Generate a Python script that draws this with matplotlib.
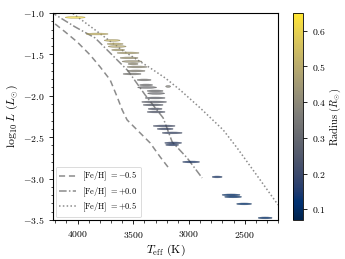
import numpy as np
import matplotlib
matplotlib.use("Agg")
import matplotlib.pyplot as plt
from matplotlib.patches import Ellipse
from matplotlib.colors import Normalize
from matplotlib.ticker import MultipleLocator

plt.rcParams['font.family'] = 'serif'
plt.rcParams['font.serif'] = ['cmr10', 'DejaVu Serif']
plt.rcParams['mathtext.fontset'] = 'cm'
plt.rcParams['axes.formatter.use_mathtext'] = True
plt.rcParams['axes.unicode_minus'] = True

# Stars: Teff (K), log L, Teff extent (K), radius (Rsun)
teff = [4022, 3825, 3690, 3663, 3645, 3636, 3547, 3538, 3511, 3502, 3466, 3475,
        3511, 3403, 3385, 3376, 3304, 3295, 3304, 3313, 3322, 3304, 3295, 3187,
        3223, 3214, 3151, 3142, 3151, 2981, 2747, 2622, 2604, 2505, 2316]
logl = [-1.054, -1.254, -1.332, -1.374, -1.405, -1.447, -1.483, -1.543, -1.586,
        -1.616, -1.652, -1.700, -1.737, -1.809, -1.870, -1.900, -1.942, -1.972,
        -2.027, -2.075, -2.111, -2.159, -2.196, -1.888, -2.365, -2.401, -2.449,
        -2.570, -2.594, -2.800, -2.981, -3.198, -3.222, -3.307, -3.476]
teff_width = [180, 198, 144, 144, 162, 117, 198, 162, 180, 90, 180, 162,
              162, 126, 117, 171, 144, 153, 180, 225, 180, 126, 162, 45,
              198, 144, 180, 153, 117, 153, 90, 162, 153, 135, 126]
radius = [0.612, 0.537, 0.528, 0.511, 0.497, 0.476, 0.480, 0.450, 0.435, 0.423,
          0.414, 0.389, 0.365, 0.358, 0.338, 0.328, 0.326, 0.317, 0.296, 0.278,
          0.266, 0.254, 0.245, 0.373, 0.211, 0.203, 0.200, 0.175, 0.169, 0.149,
          0.143, 0.122, 0.120, 0.118, 0.113]

# Model tracks
t_m05 = [4202, 4112, 4004, 3888, 3798, 3708, 3645, 3600, 3556, 3466, 3349, 3259, 3169]
l_m05 = [-1.133, -1.229, -1.350, -1.507, -1.652, -1.809, -2.014, -2.171, -2.292,
         -2.413, -2.570, -2.739, -2.896]
t_p00 = [4250, 4022, 3843, 3690, 3547, 3394, 3232, 3151, 3017, 2882]
l_p00 = [-0.98, -1.169, -1.302, -1.507, -1.700, -1.990, -2.268, -2.558, -2.751, -2.993]
t_p05 = [4070, 3843, 3600, 3349, 3214, 3080, 2900, 2693, 2568, 2361, 2200]
l_p05 = [-0.98, -1.205, -1.450, -1.664, -1.785, -1.930, -2.147, -2.413, -2.630, -3.017, -3.319]

fig = plt.figure(figsize=(3.45, 2.59), dpi=100)
ax = fig.add_axes([0.154, 0.151, 0.652, 0.799])
cax = fig.add_axes([0.848, 0.151, 0.031, 0.799])

cmap = plt.get_cmap('cividis')
norm = Normalize(vmin=0.07, vmax=0.65)

ax.plot(t_m05, l_m05, ls=(0, (4, 2.5)), color='0.55', lw=1.1, label=r'[Fe/H] $= -0.5$')
ax.plot(t_p00, l_p00, ls=(0, (5, 1.5, 1, 1.5)), color='0.55', lw=1.1, label=r'[Fe/H] $= +0.0$')
ax.plot(t_p05, l_p05, ls=(0, (1, 1.5)), color='0.55', lw=1.1, label=r'[Fe/H] $= +0.5$')

for t, l, w, r in zip(teff, logl, teff_width, radius):
    c = cmap(norm(r))
    e = Ellipse((t, l), width=w, height=0.022, facecolor=c[:3] + (0.75,),
                edgecolor=tuple(0.55 * np.array(c[:3])) + (0.6,), lw=0.35, zorder=3)
    ax.add_patch(e)

ax.set_xlim(4220, 2200)
ax.set_ylim(-3.5, -1.0)
ax.xaxis.set_major_locator(MultipleLocator(500))
ax.xaxis.set_minor_locator(MultipleLocator(100))
ax.yaxis.set_major_locator(MultipleLocator(0.5))
ax.yaxis.set_minor_locator(MultipleLocator(0.1))
ax.tick_params(labelsize=7, length=3, width=0.6)
ax.tick_params(which='minor', length=1.8, width=0.5)
for s in ax.spines.values():
    s.set_linewidth(0.8)
ax.set_xlabel(r'$T_{\rm eff}$ (K)', fontsize=8.5, labelpad=2)
ax.set_ylabel(r'$\log_{10} L$ ($L_{\odot}$)', fontsize=8.5, labelpad=2)

leg = ax.legend(loc='lower left', fontsize=6, frameon=True, handlelength=2.0,
                borderpad=0.4, labelspacing=0.25, handletextpad=0.8,
                borderaxespad=0.3, fancybox=True)
leg.get_frame().set_linewidth(0.6)

sm = plt.cm.ScalarMappable(norm=norm, cmap=cmap)
cb = fig.colorbar(sm, cax=cax)
cb.set_ticks([0.1, 0.2, 0.3, 0.4, 0.5, 0.6])
cb.ax.tick_params(labelsize=7, length=3, width=0.6)
cb.set_label(r'Radius ($R_{\odot}$)', fontsize=7.5, labelpad=1)
cb.outline.set_linewidth(0.6)

fig.savefig('out.png', dpi=100)
